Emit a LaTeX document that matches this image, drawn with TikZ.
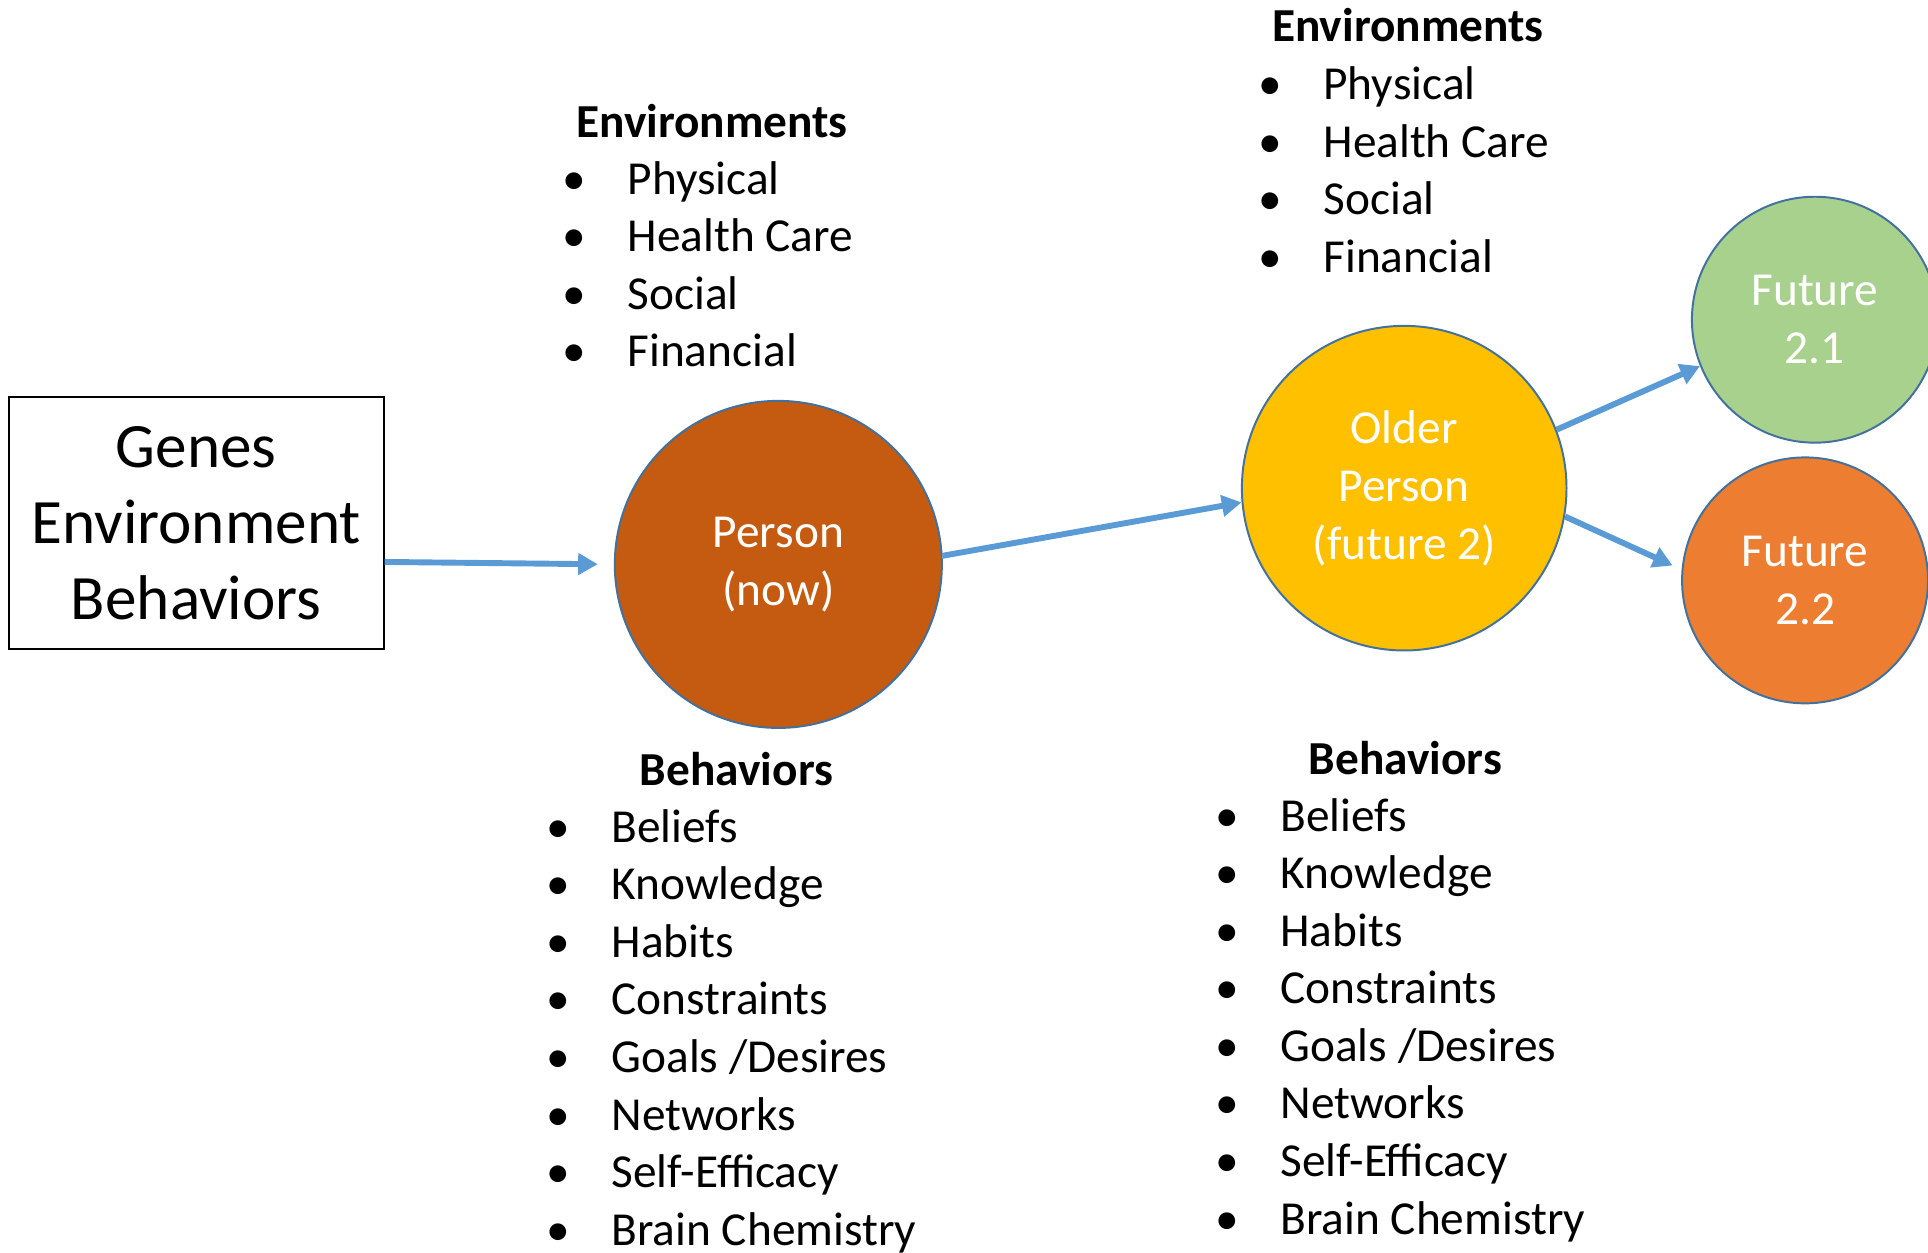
\documentclass[tikz,border=0pt]{standalone}
\usepackage{fontspec}
\setmainfont{Carlito}
\usetikzlibrary{arrows.meta}
\definecolor{arrowblue}{HTML}{5B9BD5}
\definecolor{ringblue}{HTML}{41719C}
\definecolor{nowfill}{HTML}{C55A11}
\definecolor{olderfill}{HTML}{FFC000}
\definecolor{futafill}{HTML}{A9D18E}
\definecolor{futbfill}{HTML}{ED7D31}
\newcommand{\itm}[1]{\llap{\textbullet\hspace{16.7pt}}#1}
\begin{document}
\begin{tikzpicture}[x=0.5pt, y=-0.5pt]
  % Define styles
  \tikzstyle{block} = [rectangle, draw, line width=0.8pt, minimum width=152.5pt, minimum height=102.5pt, align=center, font=\fontsize{25.7}{31}\selectfont]
  \tikzstyle{stage} = [circle, draw=ringblue, line width=0.8pt, text=white, align=center, inner sep=0pt, font=\fontsize{19.25}{23.5}\selectfont]
  \tikzstyle{heading} = [anchor=base, font=\fontsize{19.25}{23.5}\selectfont\bfseries]
  \tikzstyle{listitem} = [anchor=base west, inner sep=0pt, font=\fontsize{19.25}{23.5}\selectfont]
  \tikzstyle{arrow} = [draw=arrowblue, line width=2.4pt, -{Triangle[length=8pt, width=8.5pt]}]

  \useasboundingbox (0,0) rectangle (1568,1019);

  % Starting box
  \node[block] (gbe) at (159.5, 425.5) {Genes\\Environment\\Behaviors};

  % Stages of the person
  \node[stage, fill=nowfill, minimum size=133pt] (person) at (633, 459) {Person\\(now)};
  \node[stage, fill=olderfill, minimum size=132pt] (older) at (1142, 397) {Older\\Person\\(future 2)};
  \node[stage, fill=futafill, minimum size=100pt] (futa) at (1476, 260) {Future\\2.1};
  \node[stage, fill=futbfill, minimum size=100pt] (futb) at (1468, 472) {Future\\2.2};

  % Environments (now)
  \node[heading] (envnow) at (579, 112) {Environments};
  \foreach \t [count=\i] in {Physical, Health Care, Social, Financial}
    \node[listitem] (envnow\i) at (510, {111.2+46.8*\i}) {\itm{\t}};

  % Environments (future 2)
  \node[heading] (envold) at (1145, 34) {Environments};
  \foreach \t [count=\i] in {Physical, Health Care, Social, Financial}
    \node[listitem] (envold\i) at (1076, {34.2+46.8*\i}) {\itm{\t}};

  % Behaviors (now)
  \node[heading] (behnow) at (599, 639) {Behaviors};
  \foreach \t [count=\i] in {Beliefs, Knowledge, Habits, Constraints, Goals /Desires, Networks, Self-Efficacy, Brain Chemistry}
    \node[listitem] (behnow\i) at (497, {638.2+46.8*\i}) {\itm{\t}};

  % Behaviors (future 2)
  \node[heading] (behold) at (1143, 630) {Behaviors};
  \foreach \t [count=\i] in {Beliefs, Knowledge, Habits, Constraints, Goals /Desires, Networks, Self-Efficacy, Brain Chemistry}
    \node[listitem] (behold\i) at (1041, {629.2+46.8*\i}) {\itm{\t}};

  % Arrows
  \draw[arrow, shorten >=6.5pt] ([yshift=-15.75pt]gbe.east) -- (person.west);
  \draw[arrow] (person.3) -- (older.185);
  \draw[arrow] (older.21) -- (futa.202);
  \draw[arrow, shorten >=4pt] (older.-10) -- (futb.175);

\end{tikzpicture}
\end{document}
